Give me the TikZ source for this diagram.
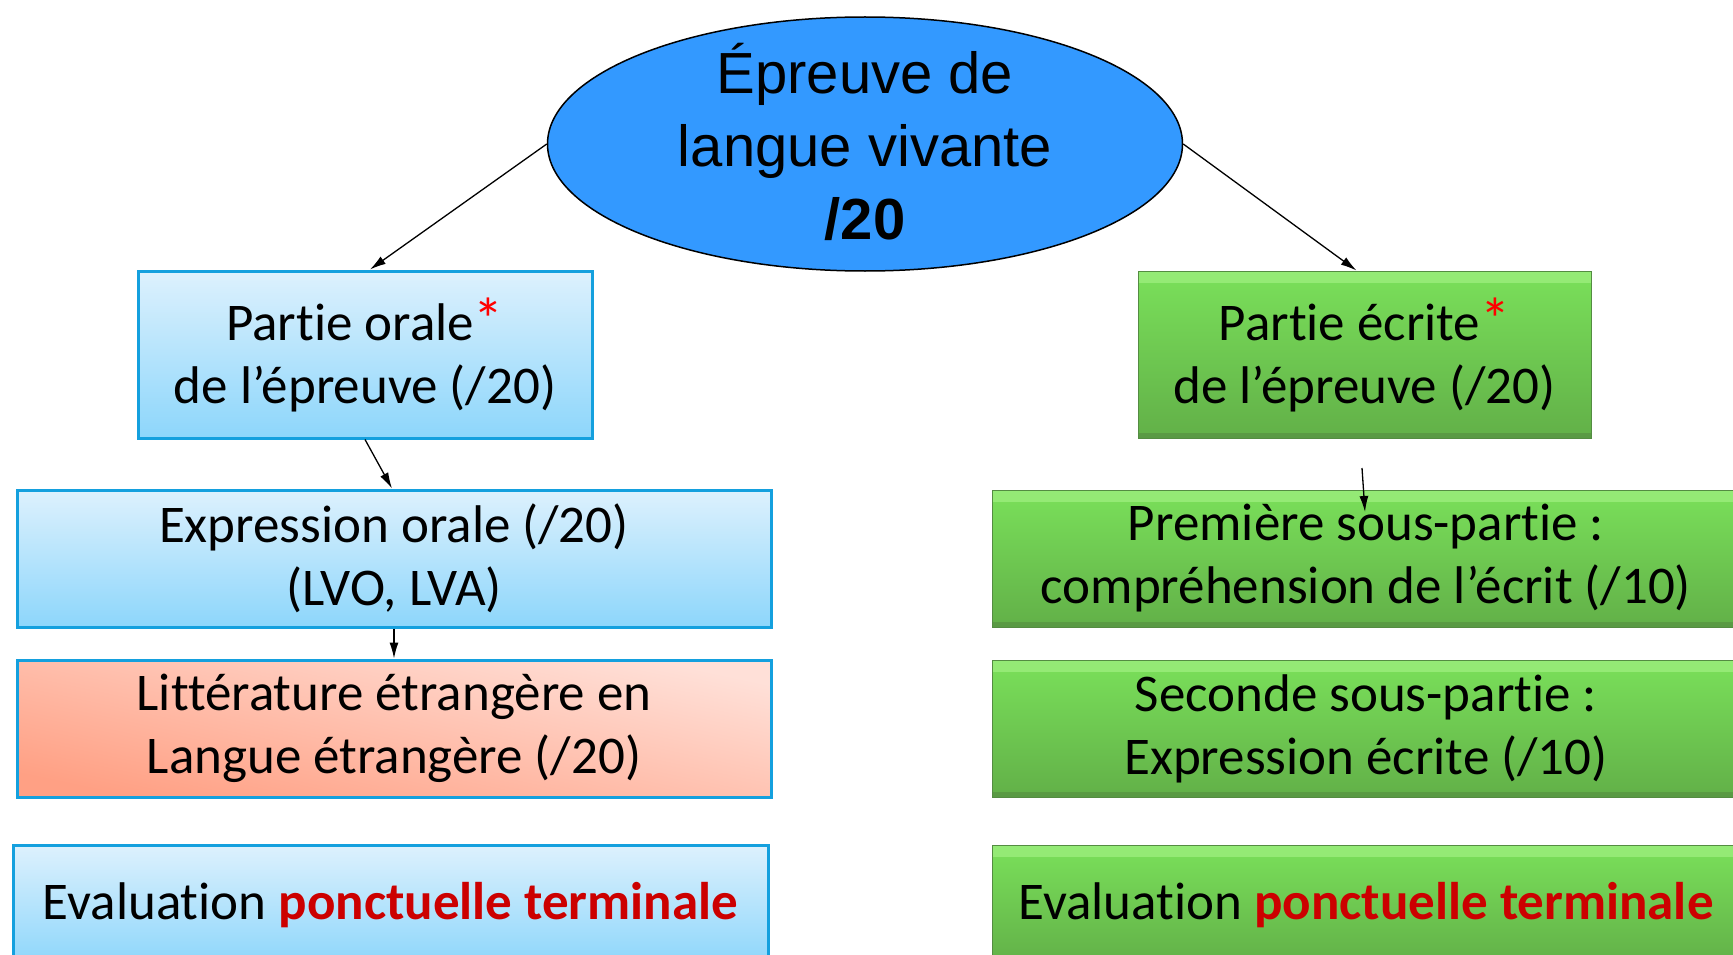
\documentclass[tikz,border=0pt]{standalone}
\usepackage{fontspec}
\setmainfont[Ligatures={NoCommon,NoContextual,NoRare},RawFeature={-liga;-clig;-calt;-dlig;-rlig}]{Carlito}
\newfontfamily\titrefont{Liberation Sans}
\usepackage{xcolor}
\usepackage{tikz}
\usetikzlibrary{arrows.meta}
\usetikzlibrary{shapes.geometric}
\usetikzlibrary{positioning}

\definecolor{bleuellipse}{RGB}{51,153,255}
\definecolor{bleuhaut}{RGB}{221,241,253}
\definecolor{bleubas}{RGB}{141,214,251}
\definecolor{bleubord}{RGB}{20,160,222}
\definecolor{saumonclair}{RGB}{255,224,216}
\definecolor{saumon}{RGB}{255,160,132}
\definecolor{verthaut}{RGB}{122,224,90}
\definecolor{vertbas}{RGB}{98,176,72}
\definecolor{vertclair}{RGB}{160,240,130}
\definecolor{vertfonce}{RGB}{84,140,66}
\definecolor{rougetxt}{RGB}{204,0,0}

\tikzset{
  texte/.style={align=center, inner sep=0pt, font=\fontsize{53}{63}\selectfont},
  boitebleue/.style={texte, rectangle, draw=bleubord, line width=3pt,
    top color=bleuhaut, bottom color=bleubas},
  boitesaumon/.style={texte, rectangle, draw=bleubord, line width=3pt,
    shading=axis, top color=saumonclair, bottom color=saumon, shading angle=-12},
  boiteverte/.style={texte, rectangle, draw=vertfonce, line width=1pt,
    top color=verthaut, bottom color=vertbas,
    path picture={
      \fill[vertclair, opacity=0.7] (path picture bounding box.north west)
        rectangle ([yshift=-12pt]path picture bounding box.north east);
      \fill[vertfonce, opacity=0.6] (path picture bounding box.south west)
        rectangle ([yshift=5pt]path picture bounding box.south east);}},
  fleche/.style={-{Latex[length=16pt,width=9pt]}, line width=1.3pt, draw=black}
}

\begin{document}
\begin{tikzpicture}[x=1pt, y=-1pt]
\clip (0,0) rectangle (1733,955);

\node [ellipse, draw=black, line width=1.5pt, fill=bleuellipse, inner sep=0pt,
  minimum width=635pt, minimum height=254pt] (epreuve) at (865,144) {};
\node [align=center, inner sep=0pt, font=\titrefont\fontsize{58}{73}\selectfont]
  (titre) at (865,142) {Épreuve de\\langue vivante\\\textbf{/20}};

\node [boitebleue, minimum width=454pt, minimum height=167pt] (orale) at (365,354.5)
  {Partie orale\textcolor{red}{\fontsize{60}{63}\selectfont*}\\de l’épreuve (/20)};
\node [boiteverte, minimum width=453pt, minimum height=167pt] (ecrite) at (1364.5,354.5)
  {Partie écrite\textcolor{red}{\fontsize{60}{63}\selectfont*}\\de l’épreuve (/20)};

\node [boitebleue, minimum width=754pt, minimum height=137pt] (exprorale) at (394,558.5)
  {Expression orale (/20)\\(LVO, LVA)};
\node [boitesaumon, minimum width=754pt, minimum height=137pt] (litt) at (394,728.5)
  {Littérature étrangère en\\Langue étrangère (/20)};

\node [boiteverte, minimum width=748pt, minimum height=137pt] (premiere) at (1366,558.5)
  {Première sous-partie :\\compréhension de l’écrit (/10)};
\node [boiteverte, minimum width=748pt, minimum height=137pt] (seconde) at (1366,728.5)
  {Seconde sous-partie :\\Expression écrite (/10)};

\node [boitebleue, minimum width=755pt, minimum height=120pt] (evalg) at (390.5,905)
  {Evaluation \textcolor{rougetxt}{\textbf{ponctuelle terminale}}};
\node [boiteverte, minimum width=748pt, minimum height=120pt] (evald) at (1366,905)
  {Evaluation \textcolor{rougetxt}{\textbf{ponctuelle terminale}}};

% liaisons
\coordinate (d1) at (1362,468);
\coordinate (d2) at (1365,512);
\draw [fleche] (epreuve.west) -- ([xshift=5pt]orale.north);
\draw [fleche] (epreuve.east) -- ([xshift=-8pt]ecrite.north);
\draw [fleche] (orale.south) -- ([xshift=-2pt]exprorale.north);
\draw [fleche] (exprorale.south) -- (litt.north);
\draw [fleche] (d1) -- (d2);
\end{tikzpicture}
\end{document}
